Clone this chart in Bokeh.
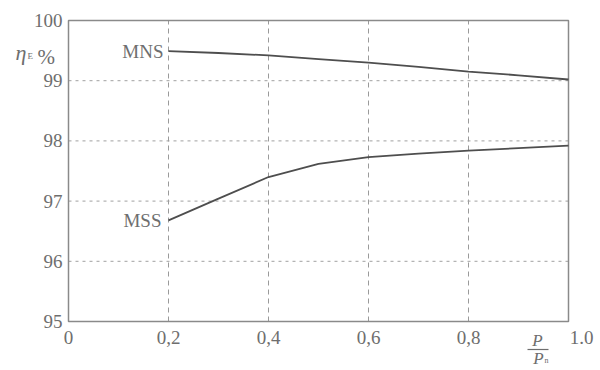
from bokeh.plotting import figure
from bokeh.models import Range1d
from bokeh.core.properties import value
from bokeh.embed import file_html
from bokeh.resources import INLINE

# data
load = [0.2, 0.3, 0.4, 0.5, 0.6, 0.7, 0.8, 0.9, 1.0]
mns = [99.49, 99.46, 99.42, 99.36, 99.30, 99.23, 99.15, 99.09, 99.02]
mss = [96.68, 97.04, 97.40, 97.62, 97.73, 97.79, 97.84, 97.88, 97.92]
x_ticks = [0, 0.2, 0.4, 0.6, 0.8, 1.0]
x_tick_labels = ["0", "0,2", "0,4", "0,6", "0,8", "1.0"]
y_ticks = [95, 96, 97, 98, 99, 100]
y_tick_labels = ["95", "96", "97", "98", "99", "100"]
x_grid = [0.2, 0.4, 0.6, 0.8]
y_grid = [96, 97, 98, 99]
series_names = ["MNS", "MSS"]

FONT = value("Liberation Serif")
TXT = "#6e6e6e"
LINE = "#4e4e4e"

# pixel layout of the plotting box inside the 600x370 canvas
W, H = 600, 370
L, R, T, B = 68, 568, 20, 321
XMIN, XMAX = 0.0, 1.0
YMIN, YMAX = 95.0, 100.0
dx = (XMAX - XMIN) / (R - L)   # data per px
dy = (YMAX - YMIN) / (B - T)

def X(px):
    return XMIN + (px - L) * dx

def Y(py):
    return YMAX - (py - T) * dy

p = figure(width=W, height=H, output_backend="svg", toolbar_location=None,
           x_range=Range1d(X(0), X(W)), y_range=Range1d(Y(H), Y(0)),
           min_border=0, min_border_left=0, min_border_right=0,
           min_border_top=0, min_border_bottom=0,
           background_fill_color="white", border_fill_color="white")
p.axis.visible = False
p.grid.visible = False
p.outline_line_color = None

# grid
p.segment(x0=x_grid, x1=x_grid, y0=[YMIN] * len(x_grid), y1=[YMAX] * len(x_grid),
          line_color="#9a9a9a", line_dash="5 4", line_width=1)
p.segment(x0=[XMIN] * len(y_grid), x1=[XMAX] * len(y_grid), y0=y_grid, y1=y_grid,
          line_color="#a0a0a0", line_dash="3 4", line_width=1)

# frame
p.quad(left=[XMIN], right=[XMAX], bottom=[YMIN], top=[YMAX],
       fill_color=None, line_color="#8a8a8a", line_width=1.5)

# tick labels
p.text(x=[XMIN - 6 * dx] * len(y_ticks), y=y_ticks, text=y_tick_labels,
       text_font=FONT, text_font_size="19px", text_color=TXT,
       text_align="right", text_baseline="middle")
xl = [t + (13 * dx if i == len(x_ticks) - 1 else 0) for i, t in enumerate(x_ticks)]
p.text(x=xl, y=[YMIN - 9 * dy] * len(x_ticks), text=x_tick_labels,
       text_font=FONT, text_font_size="19px", text_color=TXT,
       text_align="center", text_baseline="top")

# curves
p.line(load, mns, line_color=LINE, line_width=1.8)
p.line(load, mss, line_color=LINE, line_width=1.8)

# curve labels
p.text(x=[load[0] - 5 * dx, load[0] - 7 * dx], y=[mns[0], mss[0]], text=series_names,
       text_font=FONT, text_font_size="19px", text_color=TXT,
       text_align="right", text_baseline="middle")

# y-axis title: eta_E %
p.text(x=[X(15)], y=[Y(52)], text=["η"], text_font=FONT, text_font_style="italic",
       text_font_size="22px", text_color=TXT, text_baseline="alphabetic", text_align="left")
p.text(x=[X(27)], y=[Y(55)], text=["E"], text_font=FONT,
       text_font_size="9px", text_color=TXT, text_baseline="alphabetic", text_align="left")
p.text(x=[X(37)], y=[Y(56)], text=["%"], text_font=FONT,
       text_font_size="21px", text_color=TXT, text_baseline="alphabetic", text_align="left")

# x-axis title: P / P_n
p.text(x=[X(537)], y=[Y(340)], text=["P"], text_font=FONT, text_font_style="italic",
       text_font_size="17px", text_color=TXT, text_baseline="alphabetic", text_align="center")
p.segment(x0=[X(527)], x1=[X(548)], y0=[Y(349)], y1=[Y(349)], line_color=TXT, line_width=1.2)
p.text(x=[X(538)], y=[Y(358)], text=["P"], text_font=FONT, text_font_style="italic",
       text_font_size="17px", text_color=TXT, text_baseline="alphabetic", text_align="center")
p.text(x=[X(544)], y=[Y(360)], text=["n"], text_font=FONT,
       text_font_size="8px", text_color=TXT, text_baseline="alphabetic", text_align="left")

open("out.html", "w").write(file_html(p, INLINE))
